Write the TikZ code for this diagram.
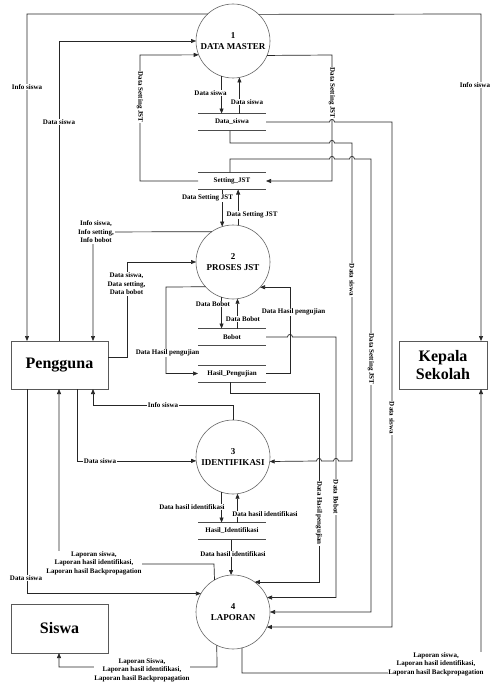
\documentclass[tikz,border=0pt]{standalone}
\usepackage{fontspec}
\setmainfont{Liberation Serif}
\usetikzlibrary{arrows.meta}
\begin{document}
\begin{tikzpicture}[x=1pt,y=-1pt,
  flow/.style={draw=black!85, line width=0.7pt, -{Triangle[length=5pt,width=4pt]}},
  proc/.style={circle, draw=black!60, line width=0.6pt, fill=white, minimum size=74pt,
    inner sep=0pt, outer sep=0pt, align=center, font=\bfseries\fontsize{9}{11}\selectfont},
  ent/.style={rectangle, draw=black!65, line width=0.8pt, fill=white, inner sep=0pt,
    outer sep=0pt, align=center, font=\bfseries\fontsize{16}{18}\selectfont},
  store/.style={rectangle, minimum width=68pt, minimum height=17pt, inner sep=0pt,
    outer sep=0pt, font=\bfseries\fontsize{7}{8}\selectfont},
  lbl/.style={fill=white, inner sep=0.8pt, align=center, font=\bfseries\fontsize{7}{8.5}\selectfont},
  vlbl/.style={lbl, rotate=-90},
]
\useasboundingbox[fill=white] (0,0) rectangle (492,685);

% processes
\node[proc] (p1) at (233,41) {1\\DATA MASTER};
\node[proc] (p2) at (233,262) {2\\PROSES JST};
\node[proc] (p3) at (233,457) {3\\IDENTIFIKASI};
\node[proc] (p4) at (233,612) {4\\LAPORAN};

% external entities
\node[ent, minimum width=97pt, minimum height=48pt] (user) at (59.5,365) {Pengguna};
\node[ent, minimum width=88pt, minimum height=48pt] (head) at (443,365) {Kepala\\Sekolah};
\node[ent, minimum width=97pt, minimum height=49pt] (pupil) at (59.5,628.5) {Siswa};

% data stores
\node[store] (dsw) at (232,122) {Data\_siswa};
\node[store] (sjst) at (232,181) {Setting\_JST};
\node[store] (bbt) at (232,337) {Bobot};
\node[store] (hpj) at (232,373.5) {Hasil\_Pengujian};
\node[store] (hid) at (232,531) {Hasil\_Identifikasi};
\foreach \s in {dsw,sjst,bbt,hpj,hid}
  \draw[draw=black!70, line width=0.8pt] (\s.north west) -- (\s.north east)
        (\s.south west) -- (\s.south east);

% --- flows around DATA MASTER
\draw[flow] (p1.133.1) -- (27,14) -- (27,0 |- user.north);
\draw[flow] (p1.46.9) -- (481,14) -- (481,0 |- head.north);
\draw[flow] (59,0 |- user.north) |- (p1.west);
\draw[flow] (sjst.west) -| (140,55) -- (p1.202.2);
\draw[flow] (p1.337.8) -- (332,55) |- (sjst.east);
\draw[flow] (p1.252.7) -- (p1.252.7 |- dsw.north);
\draw[flow] (p1.280.9 |- dsw.north) -- (p1.280.9);

% long flows to the right, with hops over crossings
\draw[flow] (dsw.east) -- (329.5,122) .. controls (329.5,118.6) and (334.5,118.6) .. (334.5,122)
  -- (392,122) |- (p4.336.1);
\draw[flow] (dsw.south -| 230,0) -- (230,143) -- (329.5,143)
  .. controls (329.5,139.6) and (334.5,139.6) .. (334.5,143) -- (352,143) -- (352,461)
  -- (338.5,461) .. controls (338.5,457.6) and (333.5,457.6) .. (333.5,461)
  -- (321.5,461) .. controls (321.5,457.6) and (316.5,457.6) .. (316.5,461) -- (p3.353.8);
\draw[flow] (sjst.north -| 230,0) -- (230,159) -- (329.5,159)
  .. controls (329.5,155.6) and (334.5,155.6) .. (334.5,159) -- (349.5,159)
  .. controls (349.5,155.6) and (354.5,155.6) .. (354.5,159) -- (371,159) |- (p4.east);
\draw[flow] (bbt.east) -- (287.5,337) .. controls (287.5,333.6) and (292.5,333.6) .. (292.5,337)
  -- (336,337) |- (p4.23.9);
\draw[flow] (hpj.south -| 230,0) -- (230,393) -- (319,393) |- (p4.54.2);

% --- flows around PROSES JST
\draw[flow] (p2.107.3 |- sjst.south) -- (p2.107.3);
\draw[flow] (p2.82.2) -- (p2.82.2 |- sjst.south);
\draw[flow] (p2.252.7) -- (p2.252.7 |- bbt.north);
\draw[flow] (p2.277.8 |- bbt.north) -- (p2.277.8);
\draw[flow] (hpj.east) -- (290,373.5) |- (p2.317.5);
\draw[flow] (p2.222.5) -- (166,287) |- (hpj.west);
\draw[flow] (p2.125.8) -- (93,232) -- (93,0 |- user.north);
\draw[flow] (user.east |- 0,357) -- (127,357) |- (p2.west);

% --- flows around IDENTIFIKASI
\draw[flow] (p3.north) -- (233,405) -- (93,405) -- (93,0 |- user.south);
\draw[flow] (77,0 |- user.south) |- (p3.186.2);
\draw[flow] (p3.252.7) -- (p3.252.7 |- hid.north);
\draw[flow] (p3.277.8 |- hid.north) -- (p3.277.8);
\draw[flow] (p4.93.1 |- hid.south) -- (p4.93.1);

% --- flows around LAPORAN
\draw[flow] (27,0 |- user.south) |- (p4.150.9);
\draw[flow] (p4.120.9) -- (214,564) -- (59,564) -- (59,0 |- user.south);
\draw[flow] (p4.244.4) -- (217,667) -- (59,667) -- (59,0 |- pupil.south);
\draw[flow] (p4.284.1) -- (242,673) -- (481,673) -- (481,0 |- head.south);

% --- labels
\node[lbl] at (27,87) {Info siswa};
\node[lbl, anchor=east] at (491,85) {Info siswa};
\node[lbl] at (59,122) {Data siswa};
\node[vlbl] at (140,97) {Data Setting JST};
\node[vlbl] at (332,93) {Data Setting JST};
\node[lbl] at (210.5,93) {Data siswa};
\node[lbl] at (247,102) {Data siswa};
\node[lbl] at (207.5,198) {Data Setting JST};
\node[lbl] at (252,215) {Data Setting JST};
\node[lbl] at (96,232) {Info siswa,\\Info setting,\\Info bobot};
\node[lbl] at (126.5,284) {Data siswa,\\Data setting,\\Data bobot};
\node[lbl] at (213,304) {Data Bobot};
\node[lbl] at (243,319) {Data Bobot};
\node[lbl] at (293.5,312) {Data Hasil pengujian};
\node[lbl] at (167.5,353) {Data Hasil pengujian};
\node[vlbl] at (352,280) {Data siswa};
\node[vlbl] at (371,359) {Data Setting JST};
\node[vlbl] at (392,418) {Data siswa};
\node[lbl] at (163,405) {Info siswa};
\node[lbl] at (100,461) {Data siswa};
\node[vlbl] at (319,513) {Data Hasil pengujian};
\node[vlbl] at (336,497) {Data Bobot};
\node[lbl] at (192,507) {Data hasil identifikasi};
\node[lbl] at (265,514) {Data hasil identifikasi};
\node[lbl] at (233,554) {Data hasil identifikasi};
\node[lbl] at (94,563) {Laporan siswa,\\Laporan hasil identifikasi,\\Laporan hasil Backpropagation};
\node[lbl] at (26,578) {Data siswa};
\node[lbl] at (142,670) {Laporan Siswa,\\Laporan hasil identifikasi,\\Laporan hasil Backpropagation};
\node[lbl] at (436,664) {Laporan siswa,\\Laporan hasil identifikasi,\\Laporan hasil Backpropagation};
\end{tikzpicture}
\end{document}
